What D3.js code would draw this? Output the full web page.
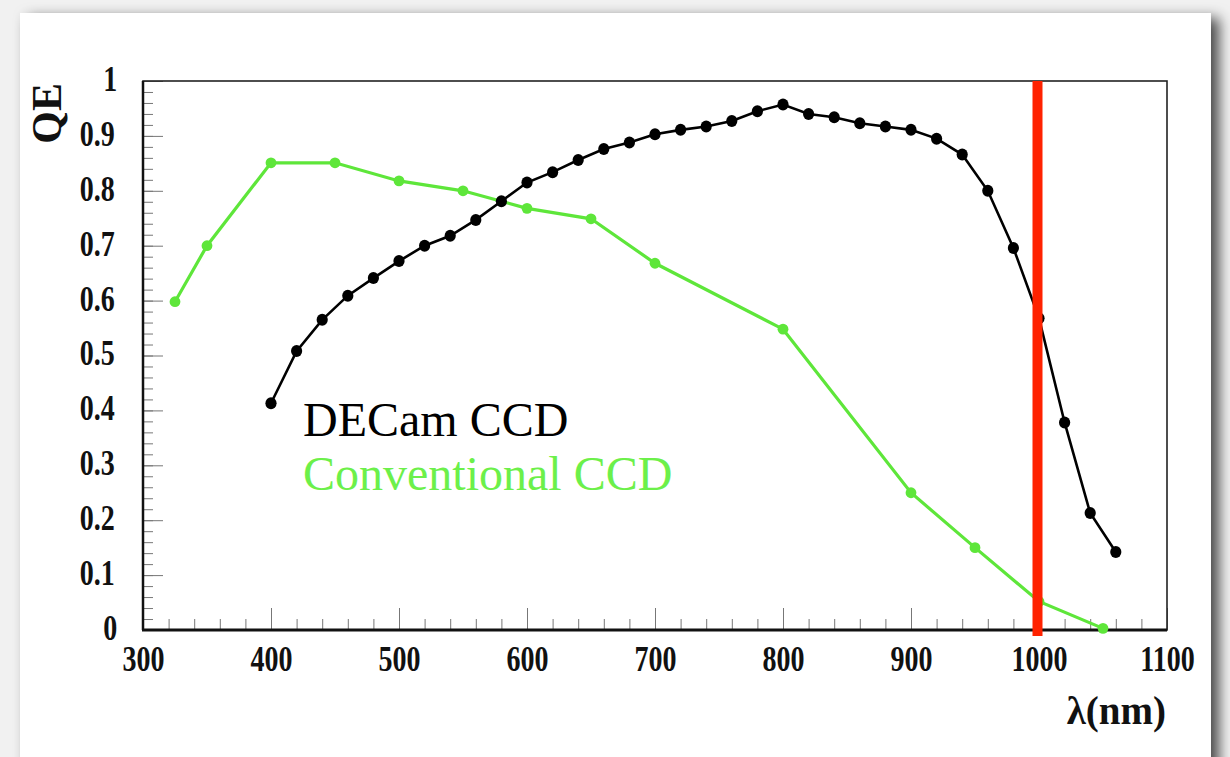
<!DOCTYPE html>
<html>
<head>
<meta charset="utf-8">
<script src="https://cdn.jsdelivr.net/npm/d3@7"></script>
<style>
  html, body { margin: 0; padding: 0; background: #f1f1f1; }
  svg { display: block; }
  .tick-label text {
    font-family: "Liberation Serif", "Times New Roman", serif;
    font-weight: bold;
    fill: #111;
    transform-box: fill-box;
    transform-origin: center;
    transform: scaleX(0.8);
  }
</style>
</head>
<body>
<div id="chart"></div>
<script>
  var width = 1230, height = 757;

  // DECam CCD, QE vs wavelength (nm)
  var decamWl = [400, 420, 440, 460, 480, 500, 520, 540, 560, 580, 600, 620, 640, 660, 680, 700, 720,
                 740, 760, 780, 800, 820, 840, 860, 880, 900, 920, 940, 960, 980, 1000, 1020, 1040, 1060];
  var decamQE = [0.413, 0.508, 0.565, 0.609, 0.641, 0.672, 0.700, 0.718, 0.747, 0.781, 0.815, 0.834,
                 0.856, 0.876, 0.888, 0.903, 0.911, 0.917, 0.927, 0.945, 0.957, 0.940, 0.934, 0.923,
                 0.917, 0.911, 0.895, 0.866, 0.800, 0.696, 0.568, 0.378, 0.213, 0.142];

  // conventional CCD
  var convWl = [325, 350, 400, 450, 500, 550, 600, 650, 700, 800, 900, 950, 1000, 1050];
  var convQE = [0.598, 0.700, 0.851, 0.851, 0.818, 0.800, 0.768, 0.749, 0.668, 0.548, 0.250, 0.150, 0.052, 0.003];

  var xTicks = [300, 400, 500, 600, 700, 800, 900, 1000, 1100];
  var yTicks = [0, 0.1, 0.2, 0.3, 0.4, 0.5, 0.6, 0.7, 0.8, 0.9, 1];
  var cutWl = 1000;

  var legendNames = ["DECam CCD", "Conventional CCD"];
  var green = "#5ee63a", red = "#ff2200";

  var x = d3.scaleLinear().domain([300, 1100]).range([143, 1167]);
  var y = d3.scaleLinear().domain([0, 1]).range([630, 81]);

  var svg = d3.select("#chart").append("svg")
    .attr("width", width)
    .attr("height", height);

  var defs = svg.append("defs");
  var f = defs.append("filter").attr("id", "shadow")
    .attr("x", "-5%").attr("y", "-5%").attr("width", "115%").attr("height", "115%");
  f.append("feDropShadow")
    .attr("dx", 8).attr("dy", 5)
    .attr("stdDeviation", 7)
    .attr("flood-color", "#000")
    .attr("flood-opacity", 0.7);

  // card
  svg.append("rect")
    .attr("x", 20).attr("y", 13)
    .attr("width", 1191).attr("height", 780)
    .attr("fill", "#fff")
    .attr("filter", "url(#shadow)");

  var g = svg.append("g");

  // ticks (inward)
  var xMinor = d3.range(300, 1101, 20);
  var yMinor = d3.range(0, 51).map(function(i) { return i / 50; });

  function tickAxis(axis, cls) {
    var a = g.append("g").attr("class", cls).call(axis);
    a.select(".domain").remove();
    a.selectAll("line").attr("stroke", "#777").attr("stroke-width", 1);
    return a;
  }

  tickAxis(d3.axisBottom(x).tickValues(xMinor).tickSize(-11).tickSizeOuter(0).tickFormat(""), "x-minor")
    .attr("transform", "translate(0," + y(0) + ")");
  tickAxis(d3.axisBottom(x).tickValues(xTicks).tickSize(-22).tickSizeOuter(0).tickFormat(""), "x-major")
    .attr("transform", "translate(0," + y(0) + ")");
  tickAxis(d3.axisLeft(y).tickValues(yMinor).tickSize(-10).tickSizeOuter(0).tickFormat(""), "y-minor")
    .attr("transform", "translate(" + x(300) + ",0)");
  tickAxis(d3.axisLeft(y).tickValues(yTicks).tickSize(-20).tickSizeOuter(0).tickFormat(""), "y-major")
    .attr("transform", "translate(" + x(300) + ",0)");

  // tick labels
  var xl = g.append("g").attr("class", "tick-label")
    .attr("transform", "translate(0," + y(0) + ")")
    .call(d3.axisBottom(x).tickValues(xTicks).tickSize(0).tickPadding(16).tickFormat(d3.format("d")));
  xl.select(".domain").remove();
  xl.selectAll("text").attr("font-size", 35).attr("fill", "#111");

  var yl = g.append("g").attr("class", "tick-label")
    .attr("transform", "translate(" + x(300) + ",0)")
    .call(d3.axisLeft(y).tickValues(yTicks).tickSize(0).tickPadding(24).tickFormat(function(d) { return String(+d.toFixed(1)); }));
  yl.select(".domain").remove();
  yl.selectAll("text").attr("font-size", 35).attr("fill", "#111").attr("dy", "0.27em");

  // frame
  g.append("rect")
    .attr("x", x(300)).attr("y", y(1))
    .attr("width", x(1100) - x(300)).attr("height", y(0) - y(1))
    .attr("fill", "none").attr("stroke", "#222").attr("stroke-width", 1.6);
  g.append("line")
    .attr("x1", x(300)).attr("x2", x(300)).attr("y1", y(1)).attr("y2", y(0))
    .attr("stroke", "#111").attr("stroke-width", 2.5);
  g.append("line")
    .attr("x1", x(300) - 1).attr("x2", x(1100)).attr("y1", y(0)).attr("y2", y(0))
    .attr("stroke", "#111").attr("stroke-width", 2.8);

  // axis titles
  g.append("text")
    .attr("transform", "translate(61," + (y(1) + 2) + ") rotate(-90)")
    .attr("text-anchor", "end")
    .attr("font-family", "Liberation Serif, serif")
    .attr("font-weight", "bold")
    .attr("font-size", 42)
    .attr("fill", "#111")
    .text("QE");

  g.append("text")
    .attr("x", 1166).attr("y", 724)
    .attr("text-anchor", "end")
    .attr("font-family", "Liberation Serif, serif")
    .attr("font-weight", "bold")
    .attr("font-size", 39)
    .attr("fill", "#111")
    .text("λ(nm)");

  // series
  var line = d3.line()
    .x(function(d) { return x(d[0]); })
    .y(function(d) { return y(d[1]); });

  var convData = convWl.map(function(w, i) { return [w, convQE[i]]; });
  var decamData = decamWl.map(function(w, i) { return [w, decamQE[i]]; });

  g.append("path").datum(convData)
    .attr("d", line).attr("fill", "none")
    .attr("stroke", green).attr("stroke-width", 3.2);
  g.selectAll(".conv-pt").data(convData).enter().append("circle")
    .attr("class", "conv-pt")
    .attr("cx", function(d) { return x(d[0]); })
    .attr("cy", function(d) { return y(d[1]); })
    .attr("r", 5.4)
    .attr("fill", green);

  g.append("path").datum(decamData)
    .attr("d", line).attr("fill", "none")
    .attr("stroke", "#000").attr("stroke-width", 2.6);
  g.selectAll(".decam-pt").data(decamData).enter().append("ellipse")
    .attr("class", "decam-pt")
    .attr("cx", function(d) { return x(d[0]); })
    .attr("cy", function(d) { return y(d[1]); })
    .attr("rx", 5.6).attr("ry", 6)
    .attr("fill", "#000");

  // 1000 nm marker
  g.append("line")
    .attr("x1", x(cutWl) - 1.5).attr("x2", x(cutWl) - 1.5)
    .attr("y1", y(1)).attr("y2", y(0) + 6)
    .attr("stroke", red).attr("stroke-width", 10);

  // legend
  g.selectAll(".legend").data(legendNames).enter().append("text")
    .attr("class", "legend")
    .attr("x", 303)
    .attr("y", function(d, i) { return 436 + i * 54; })
    .attr("font-family", "Liberation Serif, serif")
    .attr("font-size", 48)
    .attr("fill", function(d, i) { return i === 0 ? "#000" : "#6cf04a"; })
    .text(function(d) { return d; });
</script>
</body>
</html>
